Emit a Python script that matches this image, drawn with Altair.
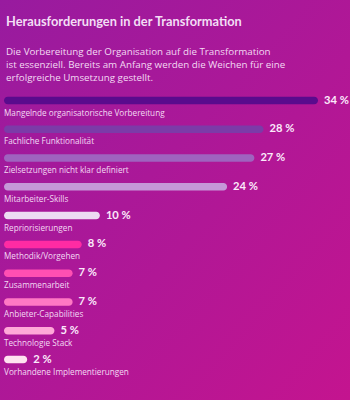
import altair as alt
import pandas as pd

title = "Herausforderungen in der Transformation"
subtitle = ("Die Vorbereitung der Organisation auf die Transformation\n"
            "ist essenziell. Bereits am Anfang werden die Weichen für eine\n"
            "erfolgreiche Umsetzung gestellt.")

categories = [
    "Mangelnde organisatorische Vorbereitung",
    "Fachliche Funktionalität",
    "Zielsetzungen nicht klar definiert",
    "Mitarbeiter-Skills",
    "Repriorisierungen",
    "Methodik/Vorgehen",
    "Zusammenarbeit",
    "Anbieter-Capabilities",
    "Technologie Stack",
    "Vorhandene Implementierungen",
]
values = [34, 28, 27, 24, 10, 8, 7, 7, 5, 2]
bar_colors = ["#5a0b8d", "#7c3ba8", "#9f63bf", "#c598d8", "#eddcf3",
              "#ff2ba3", "#ff4fb2", "#ff78c4", "#ffa8d8", "#ffe2f0"]

df = pd.DataFrame({
    "cat": categories,
    "val": values,
    "label": [f"{v} %" for v in values],
    "col": bar_colors,
})

W, H = 350, 400

bg = alt.Chart(pd.DataFrame({"a": [0]})).mark_rect(
    color=alt.LinearGradient(
        gradient="linear",
        stops=[alt.GradientStop(color="#981b9f", offset=0),
               alt.GradientStop(color="#c4148f", offset=1)],
        x1=0, x2=1, y1=0, y2=1,
    )
).encode(x=alt.value(0), x2=alt.value(W), y=alt.value(0), y2=alt.value(H))

t1 = alt.Chart(pd.DataFrame({"t": [title]})).mark_text(
    align="left", baseline="middle", font="Lato", fontWeight="bold",
    fontSize=12.8, color="#f3def5"
).encode(x=alt.value(6), y=alt.value(22), text="t:N")

t2 = alt.Chart(pd.DataFrame({"t": [subtitle]})).mark_text(
    align="left", baseline="middle", font="Open Sans", fontSize=9.8,
    color="#f3daf3", lineBreak="\n", lineHeight=13.2
).encode(x=alt.value(6), y=alt.value(52), text="t:N")

xs = alt.Scale(domain=[-0.55, 34], range=[4, 318], zero=False, nice=False)
ys = alt.Scale(domain=categories, range=[100.5, 359.5], type="point", padding=0)

base = alt.Chart(df)

bars = base.mark_bar(size=7.5, cornerRadiusEnd=3.75).encode(
    x=alt.X("val:Q", scale=xs, axis=None),
    x2=alt.datum(-0.55),
    y=alt.Y("cat:N", scale=ys, axis=None, sort=categories),
    color=alt.Color("col:N", scale=None),
)

vals = base.mark_text(
    align="left", baseline="middle", dx=6, font="Lato", fontWeight="bold",
    fontSize=11.2, color="#fbeafb"
).encode(
    x=alt.X("val:Q", scale=xs, axis=None),
    y=alt.Y("cat:N", scale=ys, axis=None, sort=categories),
    text="label:N",
)

labels = base.mark_text(
    align="left", baseline="middle", dy=13, font="Open Sans", fontSize=8.2,
    color="#f3daf3"
).encode(
    x=alt.value(4),
    y=alt.Y("cat:N", scale=ys, axis=None, sort=categories),
    text="cat:N",
)

chart = alt.layer(bg, t1, t2, bars, vals, labels).properties(
    width=W, height=H, padding=0, autosize=alt.AutoSizeParams(type="none")
).configure_view(stroke=None).configure(background="#a8189a")

chart.save("out.html", embed_options={"renderer": "svg", "actions": False})
